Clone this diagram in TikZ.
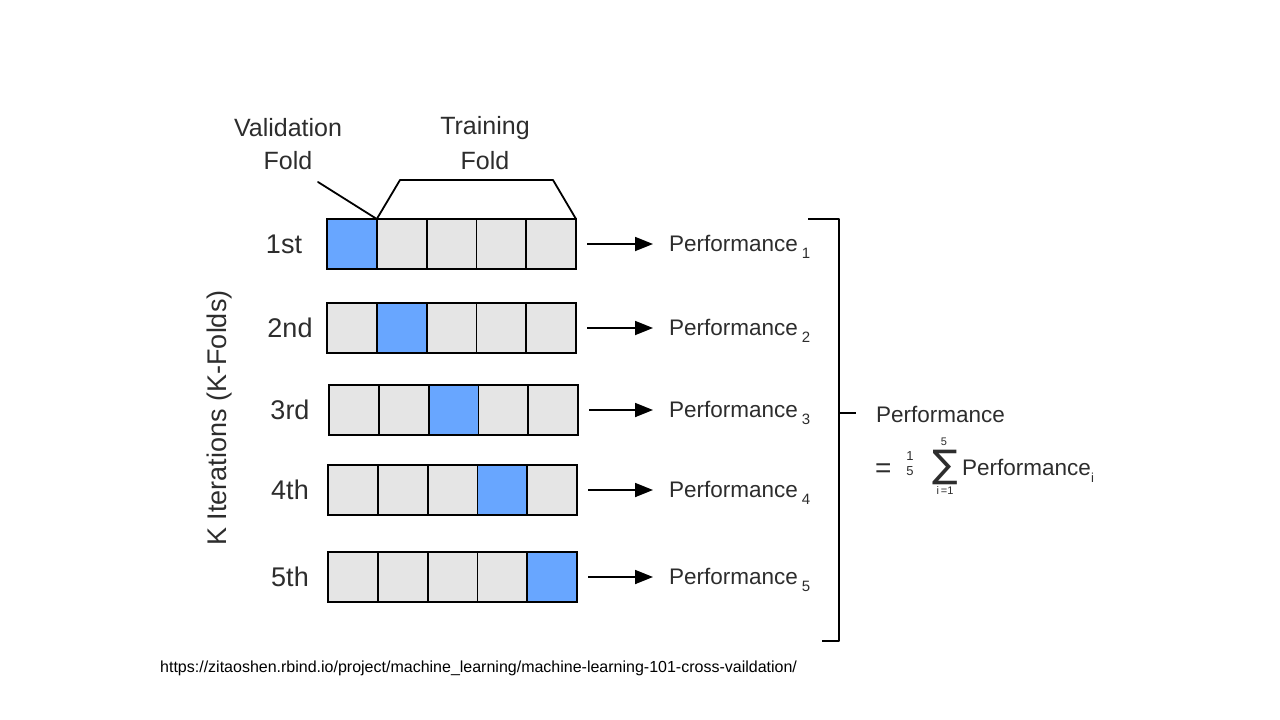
\documentclass[tikz,border=0pt]{standalone}
\usepackage{fontspec}
\setmainfont{Liberation Sans}
\newfontfamily\symfont{DejaVu Sans}
\usetikzlibrary{arrows.meta}
\definecolor{valblue}{RGB}{104,166,255}
\definecolor{traingray}{RGB}{229,229,229}
\definecolor{txt}{RGB}{45,45,45}
\begin{document}
\begin{tikzpicture}[x=1pt,y=-1pt,
  cell/.style={draw=black,line width=1.8pt,minimum width=49.8pt,minimum height=50pt,inner sep=0pt,outer sep=0pt,anchor=north west},
  rowlbl/.style={font=\fontsize{27}{30}\selectfont,text=txt,inner sep=0pt},
  hdr/.style={font=\fontsize{25}{28}\selectfont,text=txt,inner sep=0pt},
  perf/.style={font=\fontsize{22.5}{26}\selectfont,text=txt,inner sep=0pt,anchor=base west},
  small/.style={font=\fontsize{13}{15}\selectfont,text=txt,inner sep=0pt},
  tiny/.style={font=\fontsize{11}{13}\selectfont,text=txt,inner sep=0pt},
  arr/.style={line width=1.8pt,-{Triangle[length=18pt,width=14pt]}},
  lin/.style={line width=1.8pt,line cap=round,line join=round}]
\useasboundingbox (0,0) rectangle (1280,720);
\fill[white] (0,0) rectangle (1280,720);
% rows of folds
\foreach \r/\x/\y/\v in {1/327/219/1,2/327/303/2,3/329/385/3,4/328/465/4,5/328/552/5}{
  \foreach \c in {1,...,5}{
    \ifnum\c=\v \def\fc{valblue}\else\def\fc{traingray}\fi
    \node[cell,fill=\fc] (r\r c\c) at ({\x+(\c-1)*49.8},\y) {};
  }
}
% row labels
\node[rowlbl] (l1) at (284,244) {1st};
\node[rowlbl] (l2) at (290,328) {2nd};
\node[rowlbl] (l3) at (290,410) {3rd};
\node[rowlbl] (l4) at (290,490) {4th};
\node[rowlbl] (l5) at (290,577) {5th};
% axis label
\node[rowlbl,rotate=90] (klbl) at (220,418) {K Iterations (K-Folds)};
% headers
\node[hdr] (val1) at (288,128) {Validation};
\node[hdr] (val2) at (288,161) {Fold};
\node[hdr] (tr1) at (485,128) {Training};
\node[hdr] (tr2) at (485,161) {Fold};
\coordinate (vstart) at (318,182);
\draw[lin] (vstart) -- (r1c1.north east);
\coordinate (tbl) at (400,180);
\coordinate (tbr) at (553,180);
\draw[lin] (r1c2.north west) -- (tbl) -- (tbr) -- (r1c5.north east);
% performance labels and arrows
\foreach \r/\y in {1/251,2/335,3/417,4/497,5/584}{
  \node[perf] (p\r) at (669,\y) {Performance\,\raisebox{-7pt}{\fontsize{15}{15}\selectfont\r}};
  \draw[arr] ([xshift=11pt]r\r c5.east) -- ([xshift=-16pt]r\r c5.east -| p\r.west);
}
% big bracket
\coordinate (bt) at (808,219);
\coordinate (btr) at (839,219);
\coordinate (bbr) at (839,641);
\coordinate (bb) at (822,641);
\coordinate (bm) at (839,413);
\coordinate (bmt) at (856,413);
\draw[lin,line cap=butt] (bt) -- (btr) -- (bbr) -- (bb);
\draw[lin,line cap=butt] (bm) -- (bmt);
% total performance
\node[perf] (pt) at (876,422) {Performance};
\node[perf,font=\fontsize{28}{30}\selectfont] (eq) at (875,477) {=};
\node[small] (f1) at (910,456) {1};
\node[small] (f5) at (910,471) {5};
\node[inner sep=0pt,text=txt,font=\symfont\fontsize{38}{40}\selectfont] (sig) at (945,467) {∑};
\node[tiny] (su) at (944,442) {5};
\node[tiny] (sl) at (945,491) {i\,=1};
\node[perf] (pi) at (962,475) {Performance\raisebox{-7pt}{\fontsize{13}{13}\selectfont i}};
% source
\node[inner sep=0pt,anchor=west,font=\fontsize{16}{18}\selectfont,text=black] (src) at (160,668) {https://zitaoshen.rbind.io/project/machine\_learning/machine-learning-101-cross-vaildation/};
\end{tikzpicture}
\end{document}
